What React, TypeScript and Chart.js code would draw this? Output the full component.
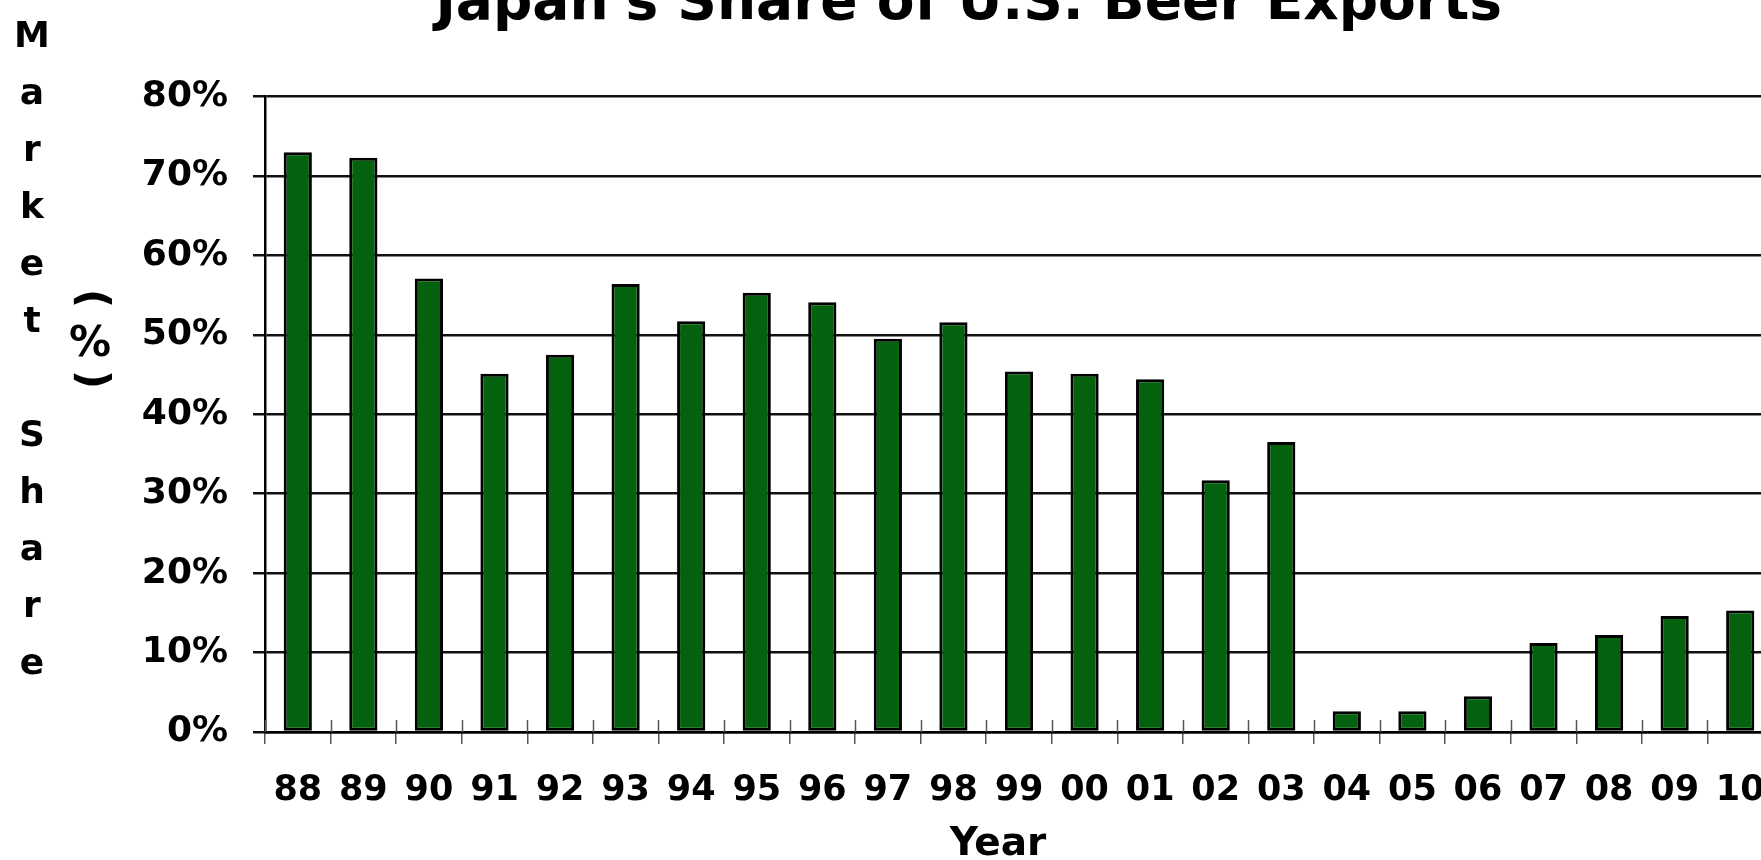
import React, { useEffect, useRef } from 'react';
import { Chart, registerables } from 'chart.js';

Chart.register(...registerables);

const years = ['88', '89', '90', '91', '92', '93', '94', '95', '96', '97', '98', '99', '00', '01', '02', '03', '04', '05', '06', '07', '08', '09', '10'];
const japanShare = [73.0, 72.3, 57.1, 45.1, 47.5, 56.4, 51.7, 55.3, 54.1, 49.5, 51.6, 45.4, 45.1, 44.4, 31.7, 36.5, 2.6, 2.6, 4.5, 11.2, 12.2, 14.6, 15.3];
const yTickValues = [0, 10, 20, 30, 40, 50, 60, 70, 80];

const chartTitle = "Japan's Share of U.S. Beer Exports";
const xAxisTitle = 'Year';
const yAxisTitleMain = 'Market Share';
const yAxisTitleUnit = '(%)';

const FONT = '"DejaVu Sans", Verdana, sans-serif';
const BAR_GREEN = '#04620e';

const CANVAS_W = 1937;
const CANVAS_H = 920;
const CANVAS_TOP = -50;

export default function App() {
  const canvasRef = useRef<HTMLCanvasElement | null>(null);

  useEffect(() => {
    const canvas = canvasRef.current;
    if (!canvas) return;

    const extrasPlugin = {
      id: 'extras',
      afterDraw(chart: any) {
        const { ctx, chartArea } = chart;
        const xs = chart.scales.x;
        ctx.save();
        // x tick marks crossing above the axis line
        ctx.strokeStyle = '#555';
        ctx.lineWidth = 1.5;
        for (let i = 0; i <= years.length; i++) {
          const px = Math.round(xs.getPixelForValue(i - 0.5)) + 0.5;
          ctx.beginPath();
          ctx.moveTo(px, chartArea.bottom - 12);
          ctx.lineTo(px, chartArea.bottom);
          ctx.stroke();
        }
        ctx.fillStyle = '#000';
        // stacked y-axis title, column 1
        ctx.font = `bold 36px ${FONT}`;
        ctx.textAlign = 'center';
        ctx.textBaseline = 'alphabetic';
        const colX = chartArea.left - 233;
        const baseY = chartArea.top - 49.5;
        const step = 57;
        Array.from(yAxisTitleMain).forEach((ch, i) => {
          ctx.fillText(ch, colX, baseY + i * step);
        });
        // stacked y-axis title, column 2 "(%)"
        ctx.font = `bold 42px ${FONT}`;
        const col2X = chartArea.left - 175;
        const col2Y = [chartArea.top + 202, chartArea.top + 248, chartArea.top + 283];
        ctx.textBaseline = 'middle';
        Array.from(yAxisTitleUnit).forEach((ch, i) => {
          ctx.save();
          ctx.translate(col2X, col2Y[i]);
          if (ch === '(' || ch === ')') ctx.rotate(Math.PI / 2);
          ctx.fillText(ch, 0, 0);
          ctx.restore();
        });
        // x-axis title
        ctx.font = `bold 39px ${FONT}`;
        ctx.fillText(xAxisTitle, chartArea.left + 733, chartArea.bottom + 113);
        ctx.restore();
      },
    };

    const chart = new Chart(canvas, {
      type: 'bar',
      data: {
        labels: years,
        datasets: [
          {
            label: "Japan's share",
            data: japanShare,
            backgroundColor: BAR_GREEN,
            borderColor: '#000',
            borderWidth: 3,
            borderSkipped: false,
            barPercentage: 0.43,
            categoryPercentage: 1,
          },
        ],
      },
      options: {
        responsive: false,
        maintainAspectRatio: false,
        animation: false,
        devicePixelRatio: 1,
        layout: { padding: { left: 164.4, right: 164, top: 0, bottom: 0 } },
        plugins: {
          legend: { display: false },
          tooltip: { enabled: false },
          title: {
            display: true,
            text: chartTitle,
            color: '#000',
            font: { family: FONT, size: 55, weight: 'bold' },
            padding: { top: 22, bottom: 58.6 },
          },
        },
        scales: {
          x: {
            type: 'category',
            offset: true,
            afterFit(scale: any) {
              scale.height = 138;
            },
            grid: {
              display: true,
              drawOnChartArea: false,
              drawTicks: true,
              tickLength: 12,
              color: '#555',
              lineWidth: 1.5,
              offset: true,
            },
            border: { display: true, color: '#000', width: 2.5 },
            ticks: {
              color: '#000',
              font: { family: FONT, size: 35, weight: 'bold' },
              padding: 26,
              autoSkip: false,
              maxRotation: 0,
              minRotation: 0,
            },
          },
          y: {
            type: 'linear',
            min: 0,
            max: 80,
            afterFit(scale: any) {
              scale.width = 100.6;
            },
            afterUpdate(scale: any) {
              // let the tick labels extend left of the (narrow) axis box
              scale._computeLabelArea = () => undefined;
            },
            afterBuildTicks(scale: any) {
              scale.ticks = yTickValues.map((v) => ({ value: v }));
            },
            grid: {
              color: '#111',
              lineWidth: 2.5,
              drawTicks: true,
              tickLength: 12,
            },
            border: { display: true, color: '#000', width: 2.5 },
            ticks: {
              color: '#000',
              font: { family: FONT, size: 36, weight: 'bold' },
              padding: 25,
              callback: (v: any) => `${v}%`,
            },
          },
        },
      },
      plugins: [extrasPlugin],
    });

    return () => chart.destroy();
  }, []);

  return (
    <div
      style={{
        position: 'fixed',
        left: 0,
        top: 0,
        width: 1761,
        height: 860,
        overflow: 'hidden',
        background: '#fff',
      }}
    >
      <canvas
        ref={canvasRef}
        width={CANVAS_W}
        height={CANVAS_H}
        style={{
          position: 'absolute',
          left: 0,
          top: CANVAS_TOP,
          width: CANVAS_W,
          height: CANVAS_H,
          display: 'block',
        }}
      />
    </div>
  );
}
